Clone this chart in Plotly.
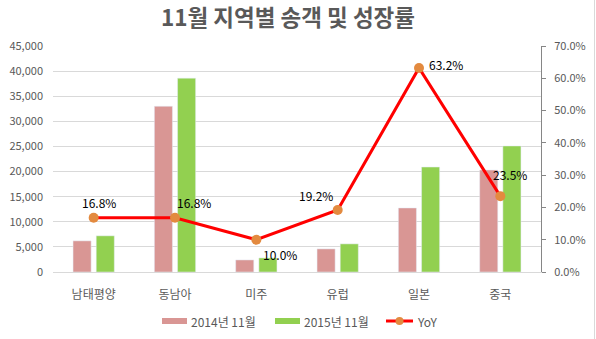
import plotly.graph_objects as go

# Passenger counts by region, Nov 2014 vs Nov 2015, with year-over-year growth
regions = ["남태평양", "동남아", "미주", "유럽", "일본", "중국"]
pax_2014 = [6200, 33000, 2400, 4600, 12750, 20300]
pax_2015 = [7200, 38600, 2800, 5600, 20900, 25100]
yoy_pct = [16.8, 16.8, 10.0, 19.2, 63.2, 23.5]

left_ticks = [0, 5000, 10000, 15000, 20000, 25000, 30000, 35000, 40000, 45000]
right_ticks = [0, 10, 20, 30, 40, 50, 60, 70]

# pixel offsets for each growth label relative to its marker
label_shift = [(5, 15), (19, 15), (24, -15), (-22, 15), (27, 3), (10, 22)]

FONT = "Noto Sans CJK KR"
W, H = 596, 339
L, R, T, B = 53, 55, 46, 67
PW, PH = W - L - R, H - T - B


def px(xp):
    return (xp - L) / PW


def py(yp):
    return (H - B - yp) / PH


PINK, GREEN, RED, ORANGE = "#D99694", "#92D050", "#FF0000", "#E38A3F"

fig = go.Figure()
fig.add_trace(go.Bar(name="2014년 11월", x=regions, y=pax_2014,
                     marker_color=PINK, yaxis="y"))
fig.add_trace(go.Bar(name="2015년 11월", x=regions, y=pax_2015,
                     marker_color=GREEN, yaxis="y"))
fig.add_trace(go.Scatter(name="YoY", x=regions, y=yoy_pct, yaxis="y2",
                         mode="lines+markers",
                         line=dict(color=RED, width=3),
                         marker=dict(color=ORANGE, size=10)))

annotations = []
for reg, v, (dx, dy) in zip(regions, yoy_pct, label_shift):
    annotations.append(dict(x=reg, y=v, xref="x", yref="y2", text=f"{v:.1f}%",
                            showarrow=False, xshift=dx, yshift=dy,
                            font=dict(family=FONT, size=12, color="#000000")))

# legend drawn below the plot: wide swatches like a spreadsheet chart
leg_y = 321
shapes = [
    dict(type="rect", xref="paper", yref="paper",
         x0=px(162), x1=px(187), y0=py(leg_y - 3), y1=py(leg_y + 3),
         fillcolor=PINK, line=dict(width=0)),
    dict(type="rect", xref="paper", yref="paper",
         x0=px(275), x1=px(300), y0=py(leg_y - 3), y1=py(leg_y + 3),
         fillcolor=GREEN, line=dict(width=0)),
    dict(type="line", xref="paper", yref="paper",
         x0=px(386), x1=px(413), y0=py(leg_y), y1=py(leg_y),
         line=dict(color=RED, width=3)),
    dict(type="circle", xref="paper", yref="paper",
         x0=px(395.5), x1=px(403.5), y0=py(leg_y - 4), y1=py(leg_y + 4),
         fillcolor=ORANGE, line=dict(width=0)),
    # right edge of the chart frame
    dict(type="line", xref="paper", yref="paper",
         x0=px(W - 1.5), x1=px(W - 1.5), y0=py(H), y1=py(0),
         line=dict(color="#D9D9D9", width=1)),
]
for text, xl in [("2014년 11월", 189), ("2015년 11월", 302), ("YoY", 415)]:
    annotations.append(dict(x=px(xl), y=py(leg_y), xref="paper", yref="paper",
                            text=text, showarrow=False, xanchor="left",
                            yanchor="middle",
                            font=dict(family=FONT, size=12, color="#595959")))

fig.update_layout(
    width=W, height=H,
    margin=dict(l=L, r=R, t=T, b=B, autoexpand=False),
    paper_bgcolor="white", plot_bgcolor="white",
    font=dict(family=FONT, color="#595959", size=11),
    title=dict(text="<b>11월 지역별 송객 및 성장률</b>", x=288 / W, xanchor="center",
               y=1 - 18 / H, yanchor="middle",
               font=dict(family=FONT, size=22.5, color="#595959")),
    showlegend=False,
    barmode="group", bargap=0.43, bargroupgap=0.22,
    xaxis=dict(showgrid=False, showline=True, linecolor="#D9D9D9", linewidth=1,
               ticks="", ticklabelstandoff=12, automargin=False,
               tickfont=dict(size=12, color="#595959")),
    yaxis=dict(range=[0, 45000], tickvals=left_ticks,
               ticktext=[f"{v:,}" for v in left_ticks],
               showgrid=True, gridcolor="#D9D9D9", gridwidth=1,
               zeroline=False, showline=False, ticks="",
               ticklabelstandoff=9, automargin=False,
               tickfont=dict(size=11, color="#595959")),
    yaxis2=dict(range=[0, 70], tickvals=right_ticks,
                ticktext=[f"{v:.1f}%" for v in right_ticks],
                overlaying="y", side="right", showgrid=False, zeroline=False,
                showline=True, linecolor="#868686", linewidth=1,
                ticks="outside", ticklen=4, tickcolor="#868686",
                ticklabelstandoff=6, automargin=False,
                tickfont=dict(size=11, color="#595959")),
    annotations=annotations,
    shapes=shapes,
)

fig.write_html("out.html")
